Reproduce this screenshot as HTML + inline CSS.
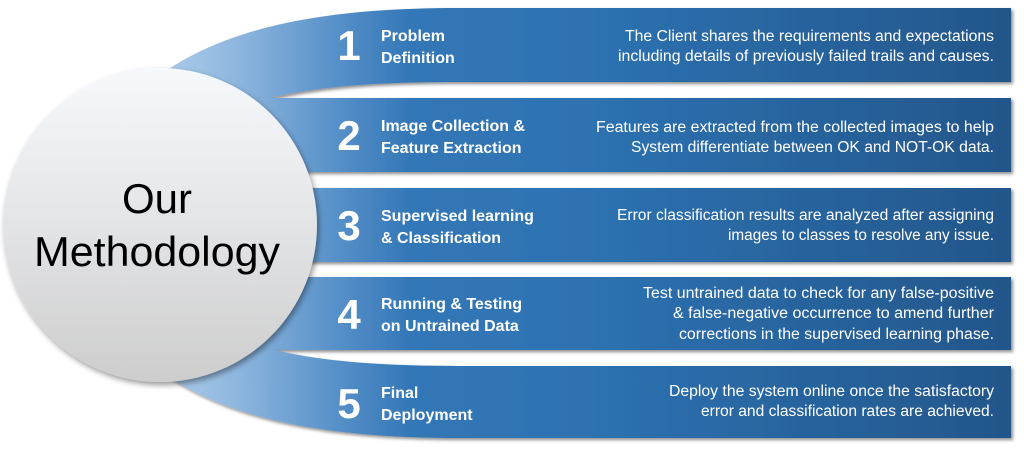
<!DOCTYPE html>
<html>
<head>
<meta charset="utf-8">
<style>
  html, body { margin: 0; padding: 0; background: #ffffff; }
  body { width: 1024px; height: 461px; overflow: hidden; }
  svg { display: block; }
  .num { font-family: "Liberation Sans", Arial, sans-serif; font-weight: bold; font-size: 42px; fill: #ffffff; }
  .ttl { font-family: "Liberation Sans", Arial, sans-serif; font-weight: bold; font-size: 16px; fill: #ffffff; }
  .dsc { font-family: "Liberation Sans", Arial, sans-serif; font-size: 15.5px; fill: #ffffff; }
  .big { font-family: "Liberation Sans", Arial, sans-serif; font-size: 42px; fill: #000000; }
</style>
</head>
<body>
<svg width="1024" height="461" viewBox="0 0 1024 461" xmlns="http://www.w3.org/2000/svg">
  <defs>
    <linearGradient id="bandG" gradientUnits="userSpaceOnUse" x1="165" y1="0" x2="1011" y2="0">
      <stop offset="0" stop-color="#aacbe9"/>
      <stop offset="0.08" stop-color="#90b8df"/>
      <stop offset="0.2" stop-color="#5891c9"/>
      <stop offset="0.29" stop-color="#3377b7"/>
      <stop offset="0.5" stop-color="#2d72b2"/>
      <stop offset="1" stop-color="#23568a"/>
    </linearGradient>
    <linearGradient id="circG" x1="0" y1="0" x2="0" y2="1">
      <stop offset="0" stop-color="#f6f9fc"/>
      <stop offset="0.5" stop-color="#e3e4e6"/>
      <stop offset="1" stop-color="#cdcdcd"/>
    </linearGradient>
    <filter id="sh" x="-5%" y="-20%" width="115%" height="150%">
      <feDropShadow dx="2" dy="2" stdDeviation="1.6" flood-color="#000" flood-opacity="0.45"/>
    </filter>
    <filter id="csh" x="-10%" y="-10%" width="125%" height="125%">
      <feDropShadow dx="2" dy="3" stdDeviation="3" flood-color="#000" flood-opacity="0.4"/>
    </filter>
  </defs>

  <!-- Bands -->
  <path filter="url(#sh)" fill="url(#bandG)"
        d="M 160,75 C 230,25 330,8 460,8 L 1011,8 L 1011,82 L 460,82 C 380,82 320,86 270,98 L 150,98 Z"/>
  <path filter="url(#sh)" fill="url(#bandG)" d="M 150,98 L 1011,98 L 1011,172 L 150,172 Z"/>
  <path filter="url(#sh)" fill="url(#bandG)" d="M 150,188 L 1011,188 L 1011,262 L 150,262 Z"/>
  <path filter="url(#sh)" fill="url(#bandG)" d="M 150,277 L 1011,277 L 1011,350 L 150,350 Z"/>
  <path filter="url(#sh)" fill="url(#bandG)"
        d="M 150,350 L 275,350 C 320,361 380,366 460,366 L 1011,366 L 1011,438 L 460,438 C 330,438 230,421 160,371 Z"/>

  <!-- Circle -->
  <circle cx="160" cy="225" r="157" fill="url(#circG)" filter="url(#csh)"/>
  <text class="big" x="157" y="213" text-anchor="middle">Our</text>
  <text class="big" x="157" y="266" text-anchor="middle" textLength="246" lengthAdjust="spacingAndGlyphs">Methodology</text>

  <!-- Numbers -->
  <text class="num" x="349" y="60" text-anchor="middle">1</text>
  <text class="num" x="349" y="150" text-anchor="middle">2</text>
  <text class="num" x="349" y="240" text-anchor="middle">3</text>
  <text class="num" x="349" y="329" text-anchor="middle">4</text>
  <text class="num" x="349" y="418" text-anchor="middle">5</text>

  <!-- Titles -->
  <text class="ttl" x="381" y="41">Problem</text>
  <text class="ttl" x="381" y="63">Definition</text>

  <text class="ttl" x="381" y="131">Image Collection &amp;</text>
  <text class="ttl" x="381" y="153">Feature Extraction</text>

  <text class="ttl" x="381" y="221">Supervised learning</text>
  <text class="ttl" x="381" y="243">&amp; Classification</text>

  <text class="ttl" x="381" y="309">Running &amp; Testing</text>
  <text class="ttl" x="381" y="331">on Untrained Data</text>

  <text class="ttl" x="381" y="398">Final</text>
  <text class="ttl" x="381" y="420">Deployment</text>

  <!-- Descriptions -->
  <text class="dsc" x="625" y="41" textLength="369" lengthAdjust="spacingAndGlyphs">The Client shares the requirements and expectations</text>
  <text class="dsc" x="618" y="61" textLength="376" lengthAdjust="spacingAndGlyphs">including details of previously failed trails and causes.</text>

  <text class="dsc" x="596" y="132" textLength="398" lengthAdjust="spacingAndGlyphs">Features are extracted from the collected images to help</text>
  <text class="dsc" x="631" y="152" textLength="363" lengthAdjust="spacingAndGlyphs">System differentiate between OK and NOT-OK data.</text>

  <text class="dsc" x="617" y="220" textLength="377" lengthAdjust="spacingAndGlyphs">Error classification results are analyzed after assigning</text>
  <text class="dsc" x="728" y="240" textLength="266" lengthAdjust="spacingAndGlyphs">images to classes to resolve any issue.</text>

  <text class="dsc" x="643" y="298" textLength="351" lengthAdjust="spacingAndGlyphs">Test untrained data to check for any false-positive</text>
  <text class="dsc" x="673" y="318" textLength="321" lengthAdjust="spacingAndGlyphs">&amp; false-negative occurrence to amend further</text>
  <text class="dsc" x="679" y="339" textLength="315" lengthAdjust="spacingAndGlyphs">corrections in the supervised learning phase.</text>

  <text class="dsc" x="669" y="396" textLength="325" lengthAdjust="spacingAndGlyphs">Deploy the system online once the satisfactory</text>
  <text class="dsc" x="701" y="416" textLength="293" lengthAdjust="spacingAndGlyphs">error and classification rates are achieved.</text>
</svg>
</body>
</html>
